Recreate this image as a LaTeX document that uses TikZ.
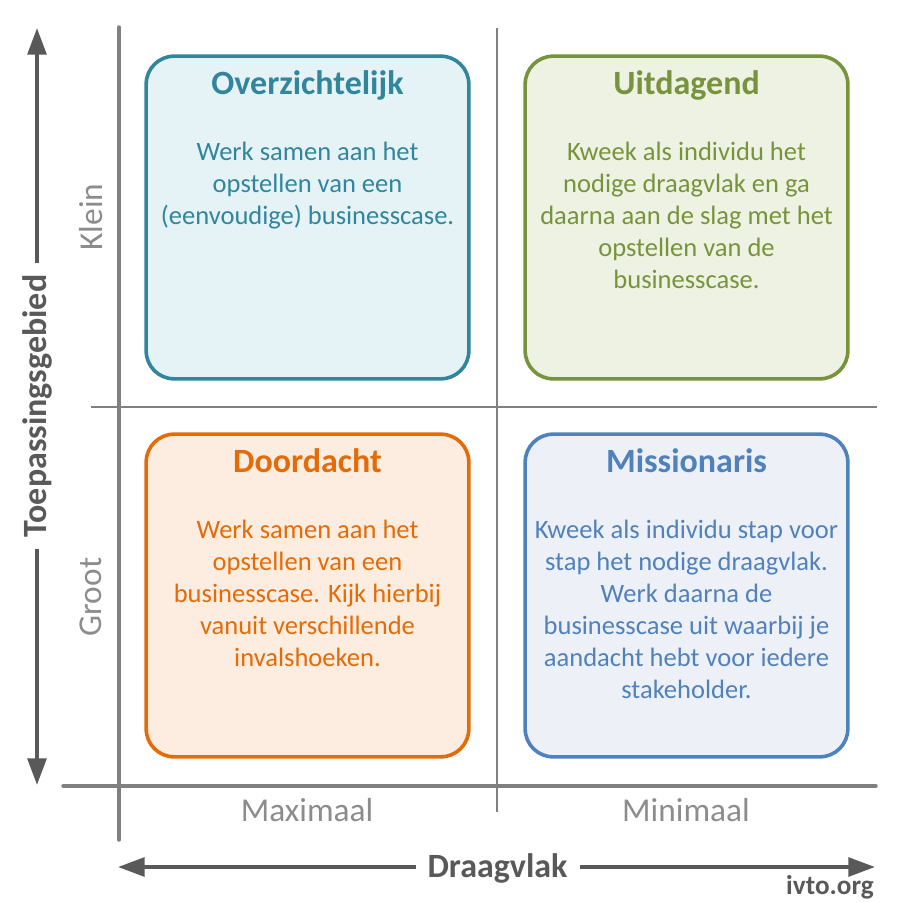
\documentclass[tikz,border=0pt]{standalone}
\usepackage{fontspec}
\setmainfont{Carlito}
\usepackage{tikz}
\usetikzlibrary{arrows.meta, positioning}

\definecolor{tealc}{HTML}{31859C}
\definecolor{tealf}{HTML}{E5F3F7}
\definecolor{greenc}{HTML}{77933C}
\definecolor{greenf}{HTML}{EEF2E3}
\definecolor{orangec}{HTML}{E36C09}
\definecolor{orangef}{HTML}{FDEDE1}
\definecolor{bluec}{HTML}{4F81BD}
\definecolor{bluef}{HTML}{EDF1F7}
\definecolor{axisgray}{HTML}{808080}
\definecolor{arrowgray}{HTML}{595959}
\definecolor{labelgray}{HTML}{8C8C8C}

\begin{document}
\begin{tikzpicture}[
    x=0.75pt, y=-0.75pt,
    quad/.style 2 args={rectangle, draw=#1, fill=#2, line width=2.7pt, rounded corners=21pt, minimum width=242pt, minimum height=242pt, outer sep=0pt, inner sep=0pt},
    title/.style={inner sep=0pt, text height=19pt, text depth=6.4pt, font=\fontsize{25.5}{30}\selectfont\bfseries},
    body/.style={inner sep=0pt, align=center, font=\fontsize{19.9}{24}\selectfont},
    scalelabel/.style={text=labelgray, inner sep=0pt, font=\fontsize{25}{30}\selectfont},
    axistitle/.style={text=arrowgray, fill=white, inner xsep=9pt, inner ysep=0pt, text height=19pt, text depth=6.4pt, font=\fontsize{25.5}{30}\selectfont\bfseries},
    axis/.style={draw=axisgray, line width=2.6pt, line cap=round},
    divider/.style={draw=axisgray, line width=1.1pt},
    arrow/.style={{Triangle[length=20pt,width=14pt]}-{Triangle[length=20pt,width=14pt]}, draw=arrowgray, line width=3pt}
]
\useasboundingbox (0,0) rectangle (903,903);

\coordinate (dtop) at (497,28);
\coordinate (dbot) at (497,812);
\coordinate (dleft) at (91,407);
\coordinate (dright) at (877,407);
\coordinate (vtop) at (119,27);
\coordinate (vbot) at (119,840);
\coordinate (hleft) at (63,786);
\coordinate (hright) at (876,786);
\coordinate (upend) at (37,28);
\coordinate (downend) at (37,785);
\coordinate (leftend) at (118,867);
\coordinate (rightend) at (875,867);

\draw[divider] (dtop) -- (dbot);
\draw[divider] (dleft) -- (dright);
\draw[axis] (vtop) -- (vbot);
\draw[axis] (hleft) -- (hright);
\draw[arrow] (upend) -- (downend);
\draw[arrow] (leftend) -- (rightend);

\node[quad={tealc}{tealf}] (ov) at (307.5,217.5) {};
\node[quad={greenc}{greenf}] (ui) at (686.5,217.5) {};
\node[quad={orangec}{orangef}] (do) at (307.5,595.5) {};
\node[quad={bluec}{bluef}] (mi) at (686.5,595.5) {};

\node[title, text=tealc, below=9.4pt of ov.north] (ovT) {Overzichtelijk};
\node[title, text=greenc, below=9.4pt of ui.north] (uiT) {Uitdagend};
\node[title, text=orangec, below=9.4pt of do.north] (doT) {Doordacht};
\node[title, text=bluec, below=9.4pt of mi.north] (miT) {Missionaris};

\node[body, text=tealc, below=29pt of ovT.south] (ovB) {Werk samen aan het\\opstellen van een\\(eenvoudige) businesscase.};
\node[body, text=greenc, below=29pt of uiT.south] (uiB) {Kweek als individu het\\nodige draagvlak en ga\\daarna aan de slag met het\\opstellen van de\\businesscase.};
\node[body, text=orangec, below=29pt of doT.south] (doB) {Werk samen aan het\\opstellen van een\\businesscase. Kijk hierbij\\vanuit verschillende\\invalshoeken.};
\node[body, text=bluec, below=29pt of miT.south] (miB) {Kweek als individu stap voor\\stap het nodige draagvlak.\\Werk daarna de\\businesscase uit waarbij je\\aandacht hebt voor iedere\\stakeholder.};

\node[scalelabel, rotate=90] (klein) at (91,217) {Klein};
\node[scalelabel, rotate=90] (groot) at (91,597) {Groot};
\node[scalelabel] (maximaal) at (307,810) {Maximaal};
\node[scalelabel] (minimaal) at (686,810) {Minimaal};

\node[axistitle, rotate=90] (toep) at (38.5,406) {Toepassingsgebied};
\node[axistitle] (draag) at (497.5,869.5) {Draagvlak};
\node[anchor=base east, inner sep=0pt, text=arrowgray, font=\fontsize{20.4}{24}\selectfont\bfseries] (ivto) at (874,894) {ivto.org};
\end{tikzpicture}
\end{document}
